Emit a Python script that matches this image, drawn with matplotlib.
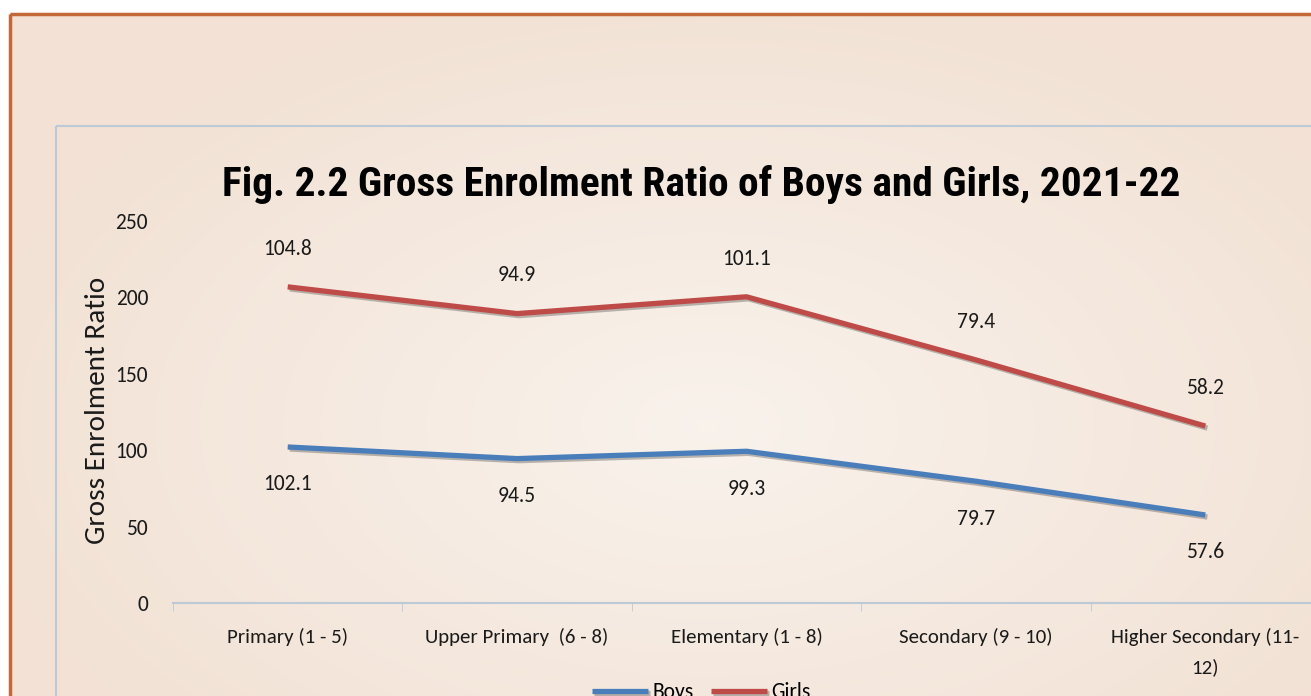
import numpy as np
import matplotlib
matplotlib.use("Agg")
import matplotlib.pyplot as plt
import matplotlib.patheffects as pe
from matplotlib.patches import Rectangle

categories = ["Primary (1 - 5)", "Upper Primary  (6 - 8)", "Elementary (1 - 8)",
              "Secondary (9 - 10)", "Higher Secondary (11-\n12)"]
boys = [102.1, 94.5, 99.3, 79.7, 57.6]
girls = [104.8, 94.9, 101.1, 79.4, 58.2]

W, H = 1311, 696
fig = plt.figure(figsize=(W / 100, H / 100), dpi=100)
fig.patch.set_facecolor("white")

# ---------------- background ----------------
bg = fig.add_axes([0, 0, 1, 1], zorder=-10)
bg.set_xlim(0, W)
bg.set_ylim(H, 0)
bg.axis("off")
yy, xx = np.mgrid[0:H, 0:W]
r = np.sqrt(((xx - 700) / 750.0) ** 2 + ((yy - 420) / 450.0) ** 2)
r = np.clip(r, 0, 1)
c0 = np.array([0.975, 0.950, 0.925])
c1 = np.array([0.950, 0.885, 0.835])
img = c0[None, None, :] * (1 - r[..., None]) + c1[None, None, :] * r[..., None]
bg.imshow(img, extent=[10, W + 5, H, 14], aspect="auto", zorder=0)
bg.add_patch(Rectangle((10, 14), W, H, fill=False, edgecolor="#c2683a", lw=2.5, zorder=2))
bg.add_patch(Rectangle((56, 126), W, H, fill=False, edgecolor="#bcc9d6", lw=1.5, zorder=2))

# ---------------- chart ----------------
ax = fig.add_axes([173 / W, 1 - 603 / H, 1147 / W, 382 / H])
ax.patch.set_alpha(0)
x = np.arange(len(categories))
top = [b + g for b, g in zip(boys, girls)]

shadow = [pe.SimpleLineShadow(offset=(1.5, -1.5), alpha=0.35, shadow_color="#404040"), pe.Normal()]
ax.plot(x, boys, color="#4a7ebb", lw=3.8, solid_capstyle="butt", path_effects=shadow, label="Boys")
ax.plot(x, top, color="#be4b48", lw=3.8, solid_capstyle="butt", path_effects=shadow, label="Girls")

lab_font = dict(family="Carlito", size=15.5, color="#1a1a1a")
for i in range(len(x)):
    ax.annotate(f"{girls[i]}", (x[i], top[i]), xytext=(0, 27.5), textcoords="offset points",
                ha="center", va="center", **lab_font)
    ax.annotate(f"{boys[i]}", (x[i], boys[i]), xytext=(0, -27), textcoords="offset points",
                ha="center", va="center", **lab_font)

ax.set_xlim(-0.5, 4.5)
ax.set_ylim(0, 250)
ax.set_yticks([0, 50, 100, 150, 200, 250])
ax.set_xticks(x)
ax.set_xticklabels(categories, fontfamily="Carlito", fontsize=15, color="#1a1a1a",
                   linespacing=1.8)
ax.set_xticks(np.arange(-0.5, 4.6, 1), minor=True)
ax.tick_params(axis="x", which="major", length=0, pad=18)
ax.tick_params(axis="x", which="minor", length=6, color="#bcc9d6", direction="out")
ax.tick_params(axis="y", length=0, pad=18, labelsize=15.5)
for t in ax.get_yticklabels():
    t.set_fontfamily("Carlito")
    t.set_color("#1a1a1a")
for s in ["top", "right", "left"]:
    ax.spines[s].set_visible(False)
ax.spines["bottom"].set_color("#bcc9d6")
ax.spines["bottom"].set_linewidth(1.5)

fig.text(98 / W, 1 - 410 / H, "Gross Enrolment Ratio", rotation=90, ha="center", va="center",
         fontfamily="Carlito", fontsize=21, color="#1a1a1a")

title = fig.text(701 / W, 1 - 185 / H, "Fig. 2.2 Gross Enrolment Ratio of Boys and Girls, 2021-22",
                 ha="center", va="center", fontfamily="Roboto Condensed",
                 fontweight="bold", fontsize=28, color="black")
# fit title width to the reference (~958 px)
rend = fig.canvas.get_renderer()
w = title.get_window_extent(renderer=rend).width
title.set_fontsize(28 * 958 / w)

fig.legend(loc="upper center", bbox_to_anchor=(0.535, 0.020), ncol=2, frameon=False,
           prop={"family": "Carlito", "size": 15.5}, handlelength=2.6,
           handletextpad=0.2, columnspacing=0.8, borderpad=0, borderaxespad=0)

fig.savefig("out.png", dpi=100)
